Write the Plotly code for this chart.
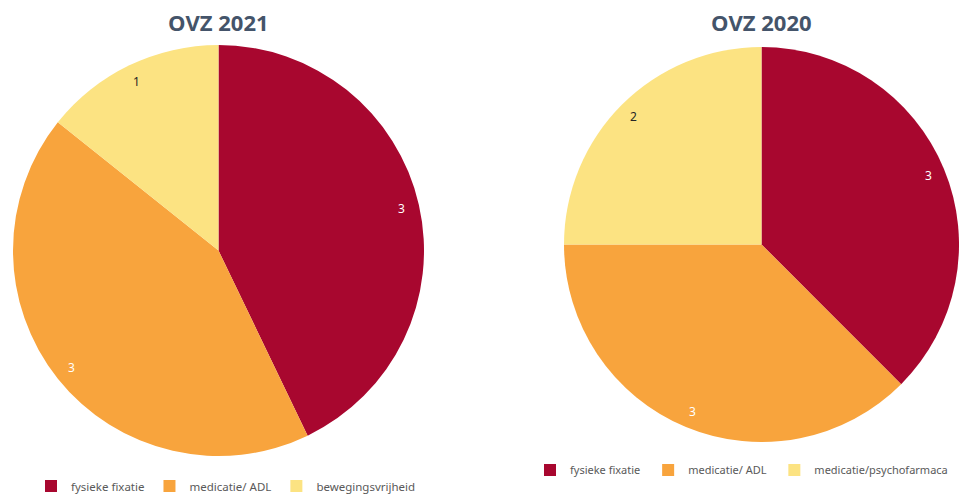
import numpy as np
import plotly.graph_objects as go

W, H = 959, 495

labels_2021 = ["fysieke fixatie", "medicatie/ ADL", "bewegingsvrijheid"]
values_2021 = [3, 3, 1]
labels_2020 = ["fysieke fixatie", "medicatie/ ADL", "medicatie/psychofarmaca"]
values_2020 = [3, 3, 2]
colors_2021 = ["#A8072F", "#F8A43D", "#FCE382"]
colors_2020 = ["#A8072F", "#F8A43D", "#FCE382"]
text_colors = ["white", "white", "#262626"]

# pie geometry in pixels (center x, center y from top, radius)
geo_2021 = (218.5, 250.5, 205.5)
geo_2020 = (761.5, 244.5, 197.5)


def domain(cx, cy, r):
    return dict(x=[(cx - r) / W, min((cx + r) / W, 1.0)],
                y=[1 - (cy + r) / H, 1 - (cy - r) / H])


fig = go.Figure()
fig.add_trace(go.Pie(labels=labels_2021, values=values_2021, sort=False,
                     direction="clockwise", rotation=0, textinfo="none",
                     marker=dict(colors=colors_2021), domain=domain(*geo_2021),
                     legend="legend", showlegend=True))
# trailing space keeps the 2020 legend entries separate from the 2021 ones
fig.add_trace(go.Pie(labels=[l + " " for l in labels_2020], values=values_2020, sort=False,
                     direction="clockwise", rotation=0, textinfo="none",
                     marker=dict(colors=colors_2020), domain=domain(*geo_2020),
                     legend="legend2", showlegend=True))

annotations = []
for vals, (cx, cy, r) in [(values_2021, geo_2021), (values_2020, geo_2020)]:
    v = np.array(vals, dtype=float)
    cum = np.cumsum(v) / v.sum()
    start = np.concatenate([[0], cum[:-1]])
    mid = (start + cum) / 2 * 2 * np.pi
    for i, (val, a) in enumerate(zip(vals, mid)):
        px = cx + 0.915 * r * np.sin(a)
        py = cy - 0.915 * r * np.cos(a)
        annotations.append(dict(x=px / W, y=1 - py / H, xref="paper", yref="paper",
                                xanchor="center", yanchor="middle",
                                text=str(val), showarrow=False,
                                font=dict(size=12, color=text_colors[i],
                                          family="Noto Sans")))

for title, (cx, cy, r) in [("OVZ 2021", geo_2021), ("OVZ 2020", geo_2020)]:
    annotations.append(dict(x=cx / W, y=1 - 22 / H, xref="paper", yref="paper",
                            xanchor="center", yanchor="middle",
                            text="<b>" + title + "</b>", showarrow=False,
                            font=dict(size=22, color="#44546A", family="Open Sans")))

fig.update_layout(
    width=W, height=H,
    margin=dict(l=0, r=0, t=0, b=0, autoexpand=False),
    paper_bgcolor="white", plot_bgcolor="white",
    annotations=annotations,
    legend=dict(orientation="h", x=31 / W, xanchor="left", y=1 - 486 / H,
                yanchor="middle", itemwidth=30,
                font=dict(size=11.5, color="#595959", family="Noto Sans"),
                bgcolor="rgba(0,0,0,0)"),
    legend2=dict(orientation="h", x=530 / W, xanchor="left", y=1 - 470 / H,
                 yanchor="middle", itemwidth=30,
                 font=dict(size=11, color="#595959", family="Noto Sans"),
                 bgcolor="rgba(0,0,0,0)"),
)

fig.write_html("out.html")
